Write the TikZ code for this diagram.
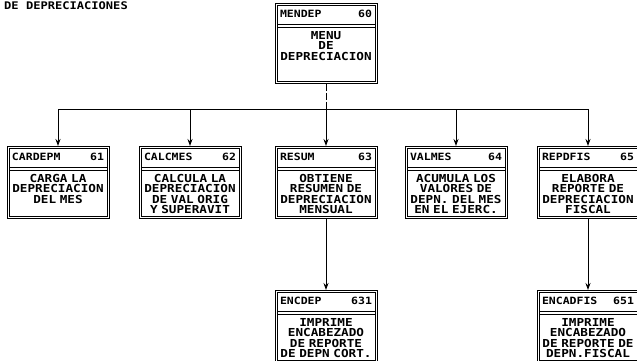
\documentclass[tikz,border=0pt]{standalone}
\usepackage{fontspec}
\usepackage{tikz}
\usetikzlibrary{positioning,arrows.meta}
\newfontfamily\matriz{DejaVu Sans Mono}[FakeStretch=1.15]

\tikzset{
  modulo/.style={draw, line width=0.8pt, minimum width=102pt, inner sep=0pt},
  borde/.style={line width=0.8pt},
  cabeza/.style={font=\matriz\bfseries\fontsize{10}{10}\selectfont, anchor=north, text width=92pt, inner sep=0pt},
  cuerpo/.style={font=\matriz\bfseries\fontsize{11}{10.5}\selectfont, anchor=north, align=center, text width=106pt, inner sep=0pt},
  flecha/.style={-{Stealth[length=7pt,width=5pt]}, line width=0.9pt},
  rota/.style={line width=0.9pt, dash pattern=on 7pt off 2pt}
}

\newcommand{\caja}[7]{%
  \node[modulo, minimum height=#4pt, anchor=north] (#1) at (#2,#3) {};
  \draw[borde] ([shift={(2.5pt,-2.5pt)}]#1.north west) rectangle ([shift={(-2.5pt,2.5pt)}]#1.south east);
  \draw[borde] ([shift={(2.5pt,-21pt)}]#1.north west) -- ([shift={(-2.5pt,-21pt)}]#1.north east);
  \draw[borde] ([shift={(2.5pt,-24pt)}]#1.north west) -- ([shift={(-2.5pt,-24pt)}]#1.north east);
  \node[cabeza, below=7pt of #1.north] (#1-cab) {#5\hfill#6};
  \node[cuerpo, below=28pt of #1.north] (#1-txt) {#7};
}

\begin{document}
\begin{tikzpicture}[x=1pt,y=-1pt]
\useasboundingbox (0,0) rectangle (637,360);

\node[font=\matriz\bfseries\fontsize{10.5}{10.5}\selectfont, anchor=north west, inner sep=0pt] (titulo) at (4,2) {DE DEPRECIACIONES};

\caja{mendep}{326}{3}{80}{MENDEP}{60}{MENU\\DE\\DEPRECIACION}
\caja{cardepm}{58}{146}{72}{CARDEPM}{61}{CARGA LA\\DEPRECIACION\\DEL  MES}
\caja{calcmes}{190}{146}{72}{CALCMES}{62}{CALCULA LA\\DEPRECIACION\\DE VAL ORIG\\Y SUPERAVIT}
\caja{resum}{326}{146}{72}{RESUM}{63}{OBTIENE\\RESUMEN DE\\DEPRECIACION\\MENSUAL}
\caja{valmes}{456}{146}{72}{VALMES}{64}{ACUMULA LOS\\VALORES  DE\\DEPN. DEL MES\\EN EL EJERC.}
\caja{repdfis}{588}{146}{72}{REPDFIS}{65}{ELABORA\\REPORTE DE\\DEPRECIACION\\FISCAL}
\caja{encdep}{326}{290}{72}{ENCDEP}{631}{IMPRIME\\ENCABEZADO\\DE REPORTE\\DE DEPN CORT.}
\caja{encadfis}{588}{290}{72}{ENCADFIS}{651}{IMPRIME\\ENCABEZADO\\DE REPORTE DE\\DEPN.FISCAL}

\coordinate (bus) at (326,109);
\draw[rota] (mendep) -- (bus);
\draw[line width=0.9pt] (bus -| cardepm) -- (bus -| repdfis);
\foreach \m in {cardepm,calcmes,resum,valmes,repdfis}
  \draw[flecha] (bus -| \m) -- (\m);
\draw[flecha] (resum) -- (encdep);
\draw[flecha] (repdfis) -- (encadfis);
\end{tikzpicture}
\end{document}
